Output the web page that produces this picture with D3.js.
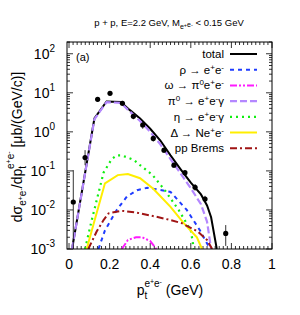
<!DOCTYPE html>
<meta charset="utf-8">
<html>
<head>
<style>
  body { margin: 0; background: #fff; }
  text { font-family: "Liberation Sans", Arial, sans-serif; }
</style>
</head>
<body>
<script src="https://d3js.org/d3.v7.min.js"></script>
<script>

// data points
var ptX  = [0.021, 0.079, 0.141, 0.202, 0.263, 0.317, 0.363, 0.415, 0.468, 0.517, 0.571, 0.621, 0.670, 0.772];
var ptY  = [0.016, 0.22, 6.8, 9.7, 5.4, 2.5, 1.5, 0.68, 0.34, 0.14, 0.09, 0.038, 0.019, 0.0025];
var ptLo = [0.0005, 0.14, 6.0, 8.8, 4.6, 2.1, 1.2, 0.56, 0.29, 0.12, 0.078, 0.031, 0.016, 0.0012];
var ptHi = [0.105, 0.34, 7.6, 10.6, 6.2, 2.9, 1.8, 0.8, 0.39, 0.16, 0.10, 0.046, 0.023, 0.0041];

// model curves
var totalX = [0.015, 0.125, 0.185, 0.255, 0.30, 0.35, 0.40, 0.45, 0.50, 0.55, 0.60, 0.65, 0.68, 0.70, 0.728];
var totalY = [0.001, 2.2, 6.0, 5.8, 3.6, 2.2, 1.2, 0.6, 0.25, 0.11, 0.05, 0.025, 0.013, 0.0065, 0.001];
var rhoX = [0.145, 0.177, 0.235, 0.285, 0.335, 0.385, 0.43, 0.5, 0.58, 0.645, 0.695];
var rhoY = [0.001, 0.003, 0.01, 0.022, 0.032, 0.037, 0.034, 0.029, 0.01, 0.003, 0.001];
var omegaX = [0.26, 0.29, 0.33, 0.36, 0.40, 0.43];
var omegaY = [0.001, 0.0017, 0.002, 0.002, 0.0016, 0.001];
var pi0X = [0.015, 0.125, 0.185, 0.255, 0.30, 0.35, 0.40, 0.45, 0.50, 0.55, 0.60, 0.65, 0.68, 0.70];
var pi0Y = [0.001, 2.1, 5.8, 5.5, 3.3, 1.9, 1.0, 0.48, 0.2, 0.085, 0.036, 0.014, 0.005, 0.001];
var etaX = [0.079, 0.11, 0.17, 0.21, 0.235, 0.26, 0.32, 0.35, 0.41, 0.47, 0.54, 0.60, 0.615];
var etaY = [0.001, 0.005, 0.09, 0.2, 0.25, 0.25, 0.19, 0.14, 0.08, 0.033, 0.01, 0.003, 0.001];
var deltaX = [0.087, 0.12, 0.177, 0.24, 0.29, 0.35, 0.415, 0.5, 0.565, 0.63, 0.655];
var deltaY = [0.001, 0.0042, 0.048, 0.078, 0.083, 0.065, 0.035, 0.012, 0.0046, 0.002, 0.001];
var bremX = [0.095, 0.136, 0.17, 0.195, 0.26, 0.335, 0.43, 0.5, 0.555, 0.635, 0.68, 0.705];
var bremY = [0.001, 0.0028, 0.0055, 0.0082, 0.0095, 0.0085, 0.0067, 0.0055, 0.0046, 0.0028, 0.0017, 0.001];

var xTicks = [0, 0.2, 0.4, 0.6, 0.8, 1];
var xTickLabels = ["0", "0.2", "0.4", "0.6", "0.8", "1"];
var yExps = [-3, -2, -1, 0, 1, 2];

var W = 300, H = 315;
var L = 67, R = 272, T = 42, B = 249;

var svg = d3.select("body").append("svg")
  .attr("width", W)
  .attr("height", H);

var x = d3.scaleLinear().domain([-0.01, 1]).range([L, R]);
var y = d3.scaleLog().domain([1e-3, 200]).range([B, T]);

svg.append("clipPath").attr("id", "clip")
  .append("rect").attr("x", L).attr("y", T).attr("width", R - L).attr("height", B - T);

// minor ticks
var xMinor = d3.range(0, 1.0001, 0.02);
var yMinor = [];
for (var e = -3; e <= 2; e++) for (var m = 1; m <= 9; m++) { if (m * Math.pow(10, e) <= 200) yMinor.push(m * Math.pow(10, e)); }

var ticks = svg.append("g").attr("stroke", "#000").attr("stroke-width", 0.8);
xMinor.forEach(function(v) {
  var major = xTicks.some(function(t) { return Math.abs(t - v) < 1e-6; });
  var len = major ? 6 : 3;
  ticks.append("line").attr("x1", x(v)).attr("x2", x(v)).attr("y1", B).attr("y2", B - len);
  ticks.append("line").attr("x1", x(v)).attr("x2", x(v)).attr("y1", T).attr("y2", T + len);
});
yMinor.forEach(function(v) {
  var major = Math.abs(Math.log10(v) - Math.round(Math.log10(v))) < 1e-6;
  var len = major ? 6 : 3;
  ticks.append("line").attr("x1", L).attr("x2", L + len).attr("y1", y(v)).attr("y2", y(v));
  ticks.append("line").attr("x1", R).attr("x2", R - len).attr("y1", y(v)).attr("y2", y(v));
});

// x tick labels
svg.append("g").selectAll("text").data(xTicks).enter().append("text")
  .attr("x", function(d) { return x(d); })
  .attr("y", B + 20)
  .attr("text-anchor", "middle")
  .attr("font-size", 14)
  .text(function(d, i) { return xTickLabels[i]; });

// y tick labels
var yl = svg.append("g").selectAll("text").data(yExps).enter().append("text")
  .attr("x", L - 12)
  .attr("y", function(d) { return y(Math.pow(10, d)) + 5; })
  .attr("text-anchor", "end")
  .attr("font-size", 14);
yl.append("tspan").text("10");
yl.append("tspan").attr("dy", -7).attr("font-size", 10).text(function(d) { return d; });

// curves
var line = d3.line()
  .x(function(d) { return x(d[0]); })
  .y(function(d) { return y(d[1]); });

var series = [
  {name: "total", xs: totalX, ys: totalY, color: "#000000", dash: null, w: 2},
  {name: "pi0", xs: pi0X, ys: pi0Y, color: "#b487ff", dash: "7,3", w: 2.2},
  {name: "rho", xs: rhoX, ys: rhoY, color: "#1f3cff", dash: "4,4", w: 2},
  {name: "omega", xs: omegaX, ys: omegaY, color: "#ff1aff", dash: "7,2,2,2,2,2", w: 2},
  {name: "eta", xs: etaX, ys: etaY, color: "#11ee11", dash: "2,4", w: 2.2},
  {name: "delta", xs: deltaX, ys: deltaY, color: "#ffee00", dash: null, w: 2},
  {name: "brem", xs: bremX, ys: bremY, color: "#a01414", dash: "7,3,2,3", w: 2}
];

var curves = svg.append("g").attr("clip-path", "url(#clip)");
series.forEach(function(s) {
  curves.append("path")
    .datum(d3.zip(s.xs, s.ys))
    .attr("d", line)
    .attr("fill", "none")
    .attr("stroke", s.color)
    .attr("stroke-width", s.w)
    .attr("stroke-dasharray", s.dash);
});

// data points with error bars
var pts = svg.append("g").attr("clip-path", "url(#clip)");
ptX.forEach(function(v, i) {
  pts.append("line")
    .attr("x1", x(v)).attr("x2", x(v))
    .attr("y1", y(ptLo[i])).attr("y2", y(ptHi[i]))
    .attr("stroke", "#000").attr("stroke-width", 0.8);
  pts.append("circle")
    .attr("cx", x(v)).attr("cy", y(ptY[i])).attr("r", 2.6)
    .attr("fill", "#000");
});

// frame
svg.append("rect").attr("x", L).attr("y", T).attr("width", R - L).attr("height", B - T)
  .attr("fill", "none").attr("stroke", "#000").attr("stroke-width", 1);

// legend
var legendLabels = ["total", "rho", "omega", "pi0", "eta", "delta", "brem"];
var legendOrder = ["total", "rho", "omega", "pi0", "eta", "delta", "brem"];
var lg = svg.append("g").attr("font-size", 11.5);
legendOrder.forEach(function(nm, i) {
  var s = series.filter(function(d) { return d.name == nm; })[0];
  var yy = 54 + i * 15.7;
  lg.append("line").attr("x1", 230).attr("x2", 257).attr("y1", yy).attr("y2", yy)
    .attr("stroke", s.color).attr("stroke-width", s.w).attr("stroke-dasharray", s.dash);
  var t = lg.append("text").attr("x", 224).attr("y", yy + 4).attr("text-anchor", "end");
  if (nm == "total") t.text("total");
  if (nm == "rho") {
    t.append("tspan").text("ρ → e");
    t.append("tspan").attr("dy", -4).attr("font-size", 8).text("+");
    t.append("tspan").attr("dy", 4).text("e");
    t.append("tspan").attr("dy", -4).attr("font-size", 8).text("-");
  }
  if (nm == "omega") {
    t.append("tspan").text("ω → π");
    t.append("tspan").attr("dy", -4).attr("font-size", 8).text("0");
    t.append("tspan").attr("dy", 4).text("e");
    t.append("tspan").attr("dy", -4).attr("font-size", 8).text("+");
    t.append("tspan").attr("dy", 4).text("e");
    t.append("tspan").attr("dy", -4).attr("font-size", 8).text("-");
  }
  if (nm == "pi0") {
    t.append("tspan").text("π");
    t.append("tspan").attr("dy", -4).attr("font-size", 8).text("0");
    t.append("tspan").attr("dy", 4).text(" → e");
    t.append("tspan").attr("dy", -4).attr("font-size", 8).text("+");
    t.append("tspan").attr("dy", 4).text("e");
    t.append("tspan").attr("dy", -4).attr("font-size", 8).text("-");
    t.append("tspan").attr("dy", 4).text("γ");
  }
  if (nm == "eta") {
    t.append("tspan").text("η → e");
    t.append("tspan").attr("dy", -4).attr("font-size", 8).text("+");
    t.append("tspan").attr("dy", 4).text("e");
    t.append("tspan").attr("dy", -4).attr("font-size", 8).text("-");
    t.append("tspan").attr("dy", 4).text("γ");
  }
  if (nm == "delta") {
    t.append("tspan").text("Δ → Ne");
    t.append("tspan").attr("dy", -4).attr("font-size", 8).text("+");
    t.append("tspan").attr("dy", 4).text("e");
    t.append("tspan").attr("dy", -4).attr("font-size", 8).text("-");
  }
  if (nm == "brem") t.text("pp Brems");
});

// (a)
svg.append("text").attr("x", 76).attr("y", 61).attr("font-size", 11).text("(a)");

// title
var title = svg.append("text").attr("x", 169).attr("y", 26).attr("text-anchor", "middle").attr("font-size", 9.5);
title.append("tspan").text("p + p, E=2.2 GeV, M");
title.append("tspan").attr("dy", 3).attr("font-size", 7).text("e");
title.append("tspan").attr("dy", -2).attr("font-size", 5.5).text("+");
title.append("tspan").attr("dy", 0).attr("font-size", 7).text("e");
title.append("tspan").attr("dy", -0).attr("font-size", 5.5).text("-");
title.append("tspan").attr("dy", -1).text(" < 0.15 GeV");

// x title
var xt = svg.append("text").attr("x", 170).attr("y", 295).attr("text-anchor", "middle").attr("font-size", 14);
xt.append("tspan").text("p");
xt.append("tspan").attr("dy", 4).attr("font-size", 10).text("t");
xt.append("tspan").attr("dy", -12).attr("dx", -3).attr("font-size", 10).text("e");
xt.append("tspan").attr("dy", -3).attr("font-size", 7).text("+");
xt.append("tspan").attr("dy", 3).attr("font-size", 10).text("e");
xt.append("tspan").attr("dy", -3).attr("font-size", 7).text("-");
xt.append("tspan").attr("dy", 11).text(" (GeV)");

// y title
var yt = svg.append("text").attr("transform", "translate(22,147) rotate(-90)").attr("text-anchor", "middle").attr("font-size", 14);
yt.append("tspan").text("dσ");
yt.append("tspan").attr("dy", 4).attr("font-size", 10).text("e");
yt.append("tspan").attr("dy", -3).attr("font-size", 7).text("+");
yt.append("tspan").attr("dy", 3).attr("font-size", 10).text("e");
yt.append("tspan").attr("dy", -3).attr("font-size", 7).text("-");
yt.append("tspan").attr("dy", -1).text("/dp");
yt.append("tspan").attr("dy", 4).attr("font-size", 10).text("t");
yt.append("tspan").attr("dy", -12).attr("dx", -3).attr("font-size", 10).text("e");
yt.append("tspan").attr("dy", -3).attr("font-size", 7).text("+");
yt.append("tspan").attr("dy", 3).attr("font-size", 10).text("e");
yt.append("tspan").attr("dy", -3).attr("font-size", 7).text("-");
yt.append("tspan").attr("dy", 11).text(" [μb/(GeV/c)]");

</script>
</body>
</html>
